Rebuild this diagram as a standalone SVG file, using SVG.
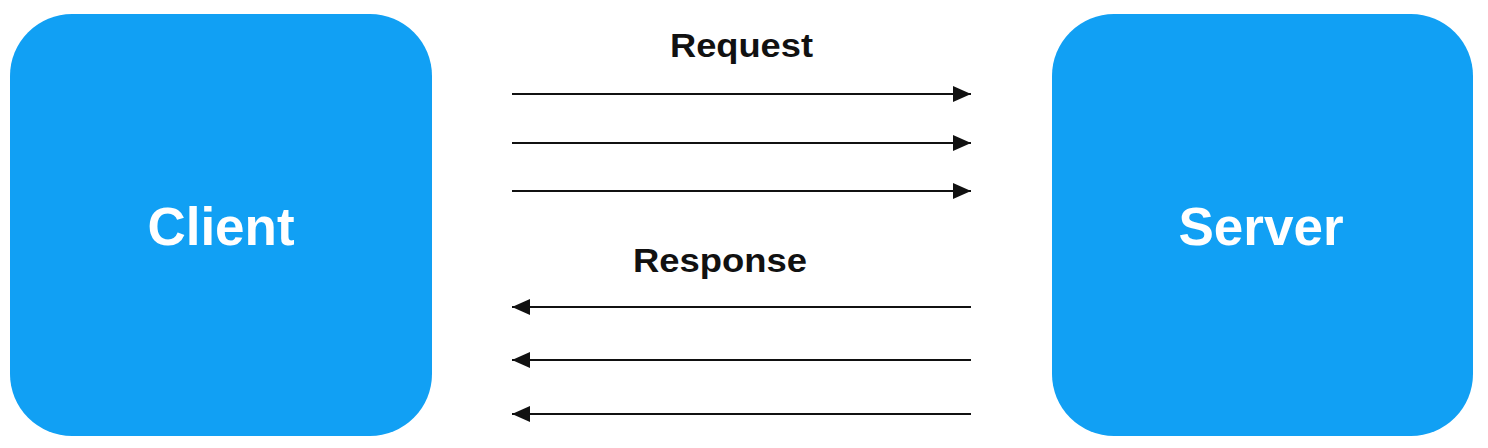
<svg xmlns="http://www.w3.org/2000/svg" width="1488" height="448" viewBox="0 0 1488 448">
<style>
.box{fill:#11a0f4;}
.node-label{font-family:"Liberation Sans",Arial,sans-serif;font-weight:bold;fill:#ffffff;text-anchor:middle;}
.edge-label{font-family:"Liberation Sans",Arial,sans-serif;font-weight:bold;fill:#111111;font-size:33px;}
.conn{stroke:#111111;stroke-width:2.2;fill:none;marker-end:url(#arrow);}
</style>
<defs>
<marker id="arrow" markerUnits="userSpaceOnUse" markerWidth="20" markerHeight="16" refX="18" refY="8" orient="auto">
<polygon points="0,0 18,8 0,16" fill="#111111"/>
</marker>
</defs>
<rect width="1488" height="448" fill="#ffffff"/>
<g id="client">
<rect class="box" x="10" y="14" width="422" height="422" rx="62" ry="62"/>
<text class="node-label" x="221" y="245" font-size="53">Client</text>
</g>
<g id="server">
<rect class="box" x="1052" y="14" width="421" height="422" rx="62" ry="62"/>
<text class="node-label" x="1261" y="245" font-size="53">Server</text>
</g>
<g id="connectors">
<path class="conn" d="M512,94 H971"/>
<path class="conn" d="M512,143 H971"/>
<path class="conn" d="M512,191 H971"/>
<path class="conn" d="M971,307 H512"/>
<path class="conn" d="M971,360 H512"/>
<path class="conn" d="M971,414 H512"/>
<text class="edge-label" x="670" y="57" textLength="143" lengthAdjust="spacingAndGlyphs">Request</text>
<text class="edge-label" x="633" y="272" textLength="174" lengthAdjust="spacingAndGlyphs">Response</text>
</g>
</svg>
